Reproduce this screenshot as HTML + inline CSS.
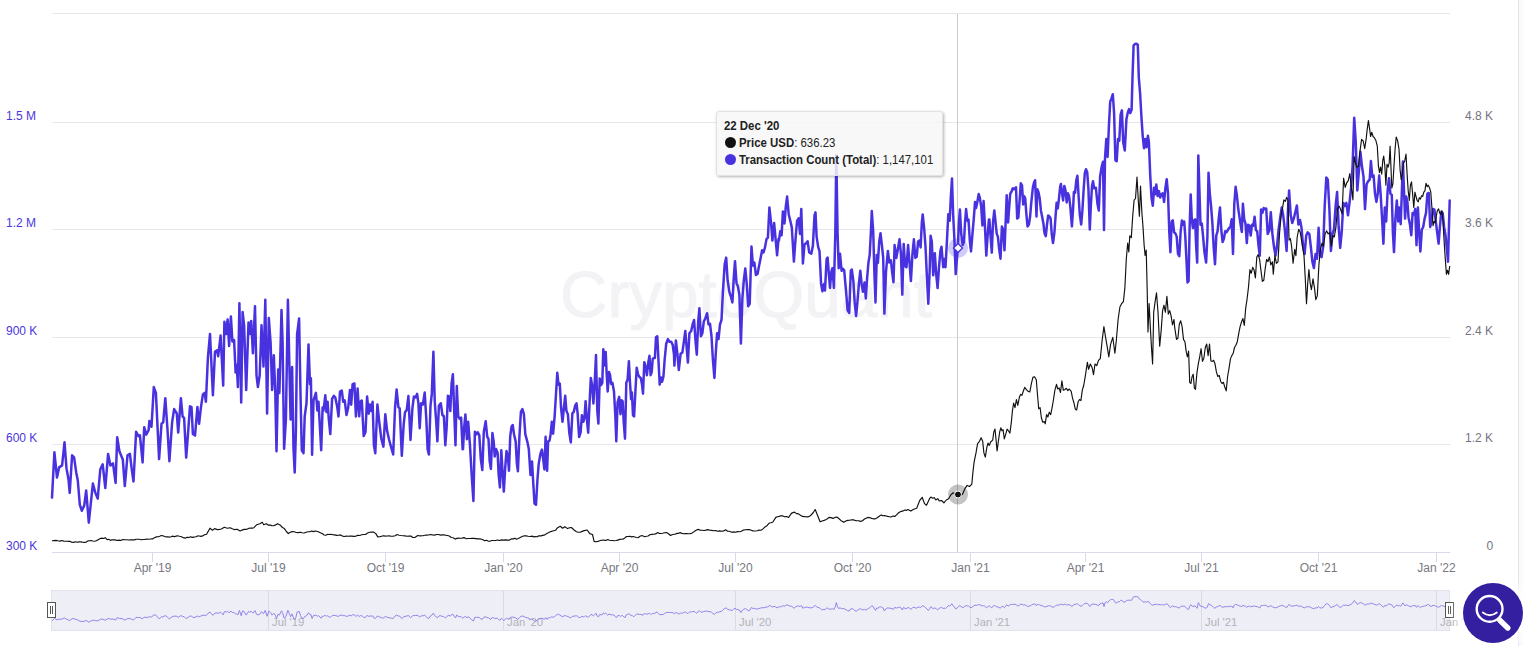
<!DOCTYPE html>
<html><head><meta charset="utf-8"><title>Chart</title>
<style>
html,body{margin:0;padding:0;background:#fff;}
body{width:1523px;height:646px;position:relative;overflow:hidden;font-family:"Liberation Sans",sans-serif;}
#rb{position:absolute;left:1518px;top:0;width:1px;height:646px;background:#e4e4ee;}
#rb2{position:absolute;left:1519px;top:0;width:4px;height:646px;background:#fafafa;}
#tt{position:absolute;left:715.5px;top:110.5px;width:225.5px;height:63px;background:rgba(247,247,247,0.85);border:1px solid #e2e2e6;border-radius:3px;box-shadow:1px 1px 3px rgba(0,0,0,0.3);font-size:12px;color:#222;line-height:17px;}
#tt div{position:absolute;left:7.4px;white-space:nowrap;transform:scaleX(0.95);transform-origin:0 0;}
#tt i{position:absolute;left:8px;width:11px;height:11px;border-radius:50%;}
#tt b{font-weight:bold;}
.dot{display:inline-block;width:10px;height:10px;border-radius:50%;vertical-align:-1px;margin-right:4px;}
#fab{position:absolute;left:1463px;top:583px;width:60px;height:60px;border-radius:50%;background:#331f9f;box-shadow:0 0 10px 6px rgba(255,255,255,0.9);}
</style></head><body>
<svg width="1523" height="646" viewBox="0 0 1523 646" style="position:absolute;left:0;top:0;font-family:'Liberation Sans',sans-serif">
<text x="560" y="317" font-size="64" fill="#f3f3f6" stroke="#f3f3f6" stroke-width="1" textLength="372" lengthAdjust="spacingAndGlyphs" font-weight="400">CryptoQuant</text>
<path d="M52 13.5 H1450" stroke="#e6e6ec" stroke-width="1" fill="none"/>
<path d="M52 122.5 H1450" stroke="#e6e6ec" stroke-width="1" fill="none"/>
<path d="M52 229.5 H1450" stroke="#e6e6ec" stroke-width="1" fill="none"/>
<path d="M52 337.5 H1450" stroke="#e6e6ec" stroke-width="1" fill="none"/>
<path d="M52 444.5 H1450" stroke="#e6e6ec" stroke-width="1" fill="none"/>
<path d="M52 552.5 H1450" stroke="#d9d9ec" stroke-width="1" fill="none"/>
<path d="M152.5 552 V562" stroke="#d9d9ec" stroke-width="1" fill="none"/>
<text x="152.5" y="571.5" font-size="12" fill="#777780" text-anchor="middle">Apr '19</text>
<path d="M268.5 552 V562" stroke="#d9d9ec" stroke-width="1" fill="none"/>
<text x="268.5" y="571.5" font-size="12" fill="#777780" text-anchor="middle">Jul '19</text>
<path d="M385.5 552 V562" stroke="#d9d9ec" stroke-width="1" fill="none"/>
<text x="385.5" y="571.5" font-size="12" fill="#777780" text-anchor="middle">Oct '19</text>
<path d="M503.5 552 V562" stroke="#d9d9ec" stroke-width="1" fill="none"/>
<text x="503.5" y="571.5" font-size="12" fill="#777780" text-anchor="middle">Jan '20</text>
<path d="M619.5 552 V562" stroke="#d9d9ec" stroke-width="1" fill="none"/>
<text x="619.5" y="571.5" font-size="12" fill="#777780" text-anchor="middle">Apr '20</text>
<path d="M735.5 552 V562" stroke="#d9d9ec" stroke-width="1" fill="none"/>
<text x="735.5" y="571.5" font-size="12" fill="#777780" text-anchor="middle">Jul '20</text>
<path d="M852.5 552 V562" stroke="#d9d9ec" stroke-width="1" fill="none"/>
<text x="852.5" y="571.5" font-size="12" fill="#777780" text-anchor="middle">Oct '20</text>
<path d="M970.5 552 V562" stroke="#d9d9ec" stroke-width="1" fill="none"/>
<text x="970.5" y="571.5" font-size="12" fill="#777780" text-anchor="middle">Jan '21</text>
<path d="M1085.5 552 V562" stroke="#d9d9ec" stroke-width="1" fill="none"/>
<text x="1085.5" y="571.5" font-size="12" fill="#777780" text-anchor="middle">Apr '21</text>
<path d="M1201.5 552 V562" stroke="#d9d9ec" stroke-width="1" fill="none"/>
<text x="1201.5" y="571.5" font-size="12" fill="#777780" text-anchor="middle">Jul '21</text>
<path d="M1318.5 552 V562" stroke="#d9d9ec" stroke-width="1" fill="none"/>
<text x="1318.5" y="571.5" font-size="12" fill="#777780" text-anchor="middle">Oct '21</text>
<path d="M1436.5 552 V562" stroke="#d9d9ec" stroke-width="1" fill="none"/>
<text x="1436.5" y="571.5" font-size="12" fill="#777780" text-anchor="middle">Jan '22</text>
<text x="6" y="119.5" font-size="12" fill="#4a36e0">1.5 M</text>
<text x="6" y="226.5" font-size="12" fill="#4a36e0">1.2 M</text>
<text x="6" y="334.5" font-size="12" fill="#4a36e0">900 K</text>
<text x="6" y="441.5" font-size="12" fill="#4a36e0">600 K</text>
<text x="6" y="549.5" font-size="12" fill="#4a36e0">300 K</text>
<text x="1465" y="119.5" font-size="12" fill="#74747f">4.8 K</text>
<text x="1465" y="226.5" font-size="12" fill="#74747f">3.6 K</text>
<text x="1465" y="334.5" font-size="12" fill="#74747f">2.4 K</text>
<text x="1465" y="441.5" font-size="12" fill="#74747f">1.2 K</text>
<text x="1486.5" y="549.5" font-size="12" fill="#74747f">0</text>
<path d="M957.5 14 V552" stroke="#cccccc" stroke-width="1" fill="none"/>
<path d="M52 497.6 L54.4 452.3 L57 477.5 L59.1 467.4 L62.1 465.4 L64.5 442.3 L66.5 468.4 L68.5 479.5 L69.7 493 L72.1 455.3 L74.1 457.3 L76.2 472.4 L77.8 480.5 L79.8 504.6 L81.8 510.7 L84.2 505.6 L86.2 490.5 L88.8 522.7 L90.8 503.6 L92.9 483.5 L95.3 492.6 L97.7 498.6 L100.3 469.4 L102.7 464.4 L105.3 488.1 L108.1 453.9 L110.4 465.4 L113 463.4 L115.6 482.9 L117.2 437.2 L119.4 451.3 L122.8 459.4 L124.8 486.1 L127.5 455.3 L129.9 453.9 L131.5 467.4 L133.5 481.5 L136.1 431.8 L138.5 436.2 L139.9 435.2 L142.6 462.4 L144.2 427.2 L146.2 434.6 L148.6 430.2 L149.4 420.9 L151.5 426.8 L153.8 387.1 L155.9 392.9 L159.1 459.1 L161.5 423.8 L163.2 422.4 L165.3 398.2 L167.4 428.2 L169.4 461.2 L172.1 422.4 L174.1 409.1 L176.8 413.5 L178.2 432.6 L180.9 398.2 L182.6 416.5 L184.1 417.9 L186.2 457.6 L188.2 431.2 L190 406.2 L191.5 407.1 L192.9 434.1 L195 435.6 L197.4 407.1 L199.1 423.8 L200.9 407.6 L202.9 394.4 L204.7 392.9 L205.9 401.8 L207.9 357.6 L210 334.1 L212.9 395.3 L215 351.8 L217.1 350.3 L218.2 356.2 L220.6 335.6 L223.2 385.6 L224.4 321.8 L226.2 334.1 L227.6 319.4 L229.1 345.9 L230.9 316.5 L232.4 341.5 L234.1 340 L235.6 372.4 L236.8 365 L237.9 387.1 L239.4 303.2 L241.2 402.4 L242.6 312.1 L244.1 325.3 L246.2 390 L248.5 322.4 L249.7 334.1 L251.2 320.9 L252.9 353.2 L255 306.2 L256.5 375.3 L257.9 387.1 L259.7 375.3 L261.5 325.3 L263.5 366.5 L265.3 299.7 L267.1 413.5 L268.8 317.9 L270.6 342.9 L272.1 390 L273.8 355.3 L275.3 392.9 L276.5 451.2 L278.2 369.4 L279.4 392.9 L281.5 310 L282.6 342.9 L284.1 448.8 L285.9 419.4 L287.9 299.7 L289.4 366.5 L290.6 419.4 L292.1 367.1 L293.5 448.8 L294.7 472.4 L295.9 431.2 L297.1 334.1 L299.1 318.5 L300.6 398.8 L301.8 450.3 L303.5 453.2 L304.7 416.5 L306.5 403.2 L308.5 344.4 L310 384.1 L310.9 378.2 L312.1 454.7 L313.5 400.3 L315.9 392.9 L317.4 410.6 L318.5 401.8 L321.2 450.3 L322.6 407.6 L323.5 410.6 L325.3 395.3 L326.5 412.1 L327.6 401.8 L328.8 419.4 L330.3 434.1 L332.1 398.8 L333.8 395.9 L335.3 397.4 L337.1 406.2 L338.5 416.5 L340 391.5 L341.8 390.6 L343.2 401.8 L344.7 400.3 L346.5 415 L348.2 407.6 L350 390 L351.2 404.7 L352.6 384.1 L354.4 383.5 L355.9 416.5 L357.6 388.5 L359.2 416.3 L360.3 401.8 L361.8 400.5 L363.7 436.1 L365.5 432.1 L367.1 396.6 L368.7 413.7 L370 404.5 L371.3 411.1 L372.6 401.8 L373.9 445.3 L375.3 453.2 L377.4 404.5 L379.2 421.6 L381.3 438.7 L383.4 446.6 L385.3 414.2 L387.1 430.8 L389.2 440 L391.3 447.9 L393.2 454.5 L395 408.4 L396.6 389.5 L398.4 407.1 L399.7 408.4 L401.8 455.8 L403.7 424.2 L405 412.4 L406.8 409.7 L408.4 396.1 L410.5 440 L412.4 408.4 L413.9 396.6 L415.5 397.4 L417.1 393.9 L418.4 403.2 L419.7 428.2 L421.1 403.2 L422.9 404.5 L424.7 392.6 L426.3 418.9 L427.6 449.2 L428.9 454.5 L430.5 405.8 L431.8 393.9 L433.4 351.8 L434.7 400.5 L436.1 420.3 L437.4 441.3 L438.9 405.8 L440.8 403.2 L442.4 415 L443.9 416.3 L445.3 445.3 L446.6 428.2 L447.9 395.8 L449.2 396.6 L450.3 411.1 L451.6 383.4 L452.9 374.2 L454.2 411.1 L455.5 445.3 L456.8 386.1 L458.2 416.3 L459.7 418.9 L461.1 417.6 L462.6 449.2 L463 449.1 L464.2 426.8 L465.4 414.4 L466.9 439.2 L468.2 421.8 L469.9 444.1 L471.6 473.8 L473.4 501 L474.9 431.7 L476.6 434.2 L477.8 432.2 L479.3 435.4 L480.8 459 L482.3 470.1 L483.8 431.7 L485.7 421.3 L487.2 436.7 L488.5 439.2 L489.7 461.4 L490.9 468.9 L492.4 433 L493.7 441.6 L494.7 456.5 L496.1 449.1 L497.6 452.8 L498.6 473.8 L499.9 487.4 L501.3 450.3 L502.6 472.6 L503.8 491.6 L505.3 466.4 L506.5 451 L507.8 456.5 L509 470.8 L510.2 436.7 L511.5 426.8 L512.7 425 L514 434.2 L515.7 441.6 L516.9 463.9 L517.9 471.3 L519.4 436.7 L520.9 411.9 L522.4 409 L523.9 414.4 L525.3 434.2 L527.3 441.6 L528.8 449.1 L530.5 475 L532 461.4 L533.3 483.7 L534.5 503.5 L536 504.8 L537.5 478.8 L538.7 463.9 L540.4 454 L541.9 449.6 L543.2 459 L544.4 469.4 L545.6 436.7 L547.1 470.8 L548.1 441.6 L549.6 440.4 L550.6 434.2 L551.8 421.8 L553.1 433.7 L554.6 416.9 L555.8 397.1 L557.3 372.8 L558.5 384.7 L559.8 383.5 L561 407 L562.5 421.8 L564 407 L565.2 395.8 L566.4 410.7 L567.9 414.4 L569.3 432.7 L570.8 442.4 L572.4 413.2 L573.7 412.1 L575.2 405.6 L576.5 403.4 L577.6 413.2 L579.1 437 L580.6 432.7 L581.9 415.3 L583.4 421.8 L584.5 417.5 L585.6 401.2 L587.1 421.8 L588.2 432.7 L589.5 404.5 L590.8 378.1 L592.1 385 L593.4 403.4 L594.7 382.8 L596 355.1 L597.3 411 L598.4 423.6 L599.7 378.5 L601 385 L602.3 382.8 L603.3 349.2 L604.6 365.5 L605.7 352.1 L606.8 376.3 L607.7 391.5 L609 372 L610.1 375.2 L611.1 383.9 L612.4 382.8 L614 391.5 L615.3 415.3 L616.3 441.3 L617.6 402.3 L619.2 396.9 L620.5 414.2 L621.5 400.2 L622.6 401.2 L623.7 421.8 L625 438.7 L626.3 382.8 L627.6 379.6 L628.9 361.2 L630 382.8 L631.1 399.1 L631.9 392.6 L633 415.3 L634.1 416.4 L635.4 391.5 L636.7 367.7 L638 374.2 L639.3 376.8 L640.8 378.1 L642.1 385 L643 393.7 L644.3 362.2 L645.6 366.6 L646.9 375.2 L648.2 363.3 L649.5 355.7 L650.6 375.2 L651.7 372 L652.7 359 L653.8 357.9 L654.9 357.9 L656 337.3 L657.3 336.2 L658.4 359 L659.7 384.6 L661 377.4 L662.1 381.7 L663.4 376.8 L664.7 359 L666.2 343.8 L667.9 339.1 L669.4 341.7 L671.2 341.7 L672.7 344.9 L674 354.7 L674.4 365.6 L675.9 340.6 L677.4 353.8 L678.8 370 L680.6 353.8 L682.4 352.4 L683.8 342.1 L685.3 330.9 L686.8 349.4 L687.9 362.6 L689.4 333.2 L691.2 330.9 L692.6 324.4 L694.1 320 L695.6 342.1 L696.8 354.7 L698.2 321.5 L699.4 308.2 L700.9 336.2 L702.4 333.2 L703.8 321.5 L705.3 318.5 L707.1 313.2 L708.5 324.4 L710 323.8 L711.5 336.2 L712.9 359.7 L714.4 377.9 L715.9 350.9 L717.1 333.2 L718.5 339.1 L720 324.4 L721.5 320 L722.9 292.1 L724.7 264.1 L726.2 257.6 L727.6 280.3 L729.4 292.1 L730.9 296.5 L732.4 302.4 L733.8 277.4 L735 261.2 L736.5 283.2 L737.9 286.2 L739.4 295 L740.9 343.5 L742.4 297.9 L743.8 280.3 L745.3 268.5 L746.8 284.7 L748.2 306.2 L749.7 303.8 L751.5 246.5 L752.9 265.6 L754.4 262.6 L755.9 275 L757.6 273.8 L759.1 265.6 L760.6 258.2 L762.1 250.3 L763.5 252.4 L765 247.4 L766.5 239.1 L767.9 237.6 L769.4 207.4 L771.2 224.4 L772.4 240.6 L774.1 222.9 L775.6 239.1 L777.1 255.3 L778.5 239.1 L778.9 240.5 L780.3 231.3 L781.6 235.3 L782.9 211.6 L784.5 223.4 L785.8 206.3 L787.1 196.6 L788.7 214.2 L790.3 220.8 L791.8 227.4 L793.9 261.6 L795.5 239.2 L797.1 220.8 L798.7 218.2 L800 233.9 L801.3 208.9 L802.9 263.4 L804.5 244.5 L806.1 243.2 L807.6 241.3 L809.2 252.4 L811.3 253.7 L812.9 245.8 L814.5 215.5 L815.5 212.4 L816.6 236.6 L818.2 247.1 L819.5 251.1 L821.1 283.9 L822.4 291.3 L823.9 283.9 L825 290.5 L826.6 258.9 L827.6 257.6 L828.9 274.7 L830 287.9 L831.3 272.1 L832.4 268.2 L833.9 287.9 L835.3 233.9 L836.3 155 L837.6 233.9 L838.7 268.2 L840 253.7 L841.6 270.8 L842.9 268.7 L844.2 270.3 L846.1 291.8 L847.6 310.3 L849.2 312.9 L850.8 270.8 L851.8 269.5 L853.4 281.3 L854.7 302.4 L856.1 316.1 L857.4 302.4 L858.9 283.9 L860.3 270.8 L861.6 283.9 L862.9 291.8 L864.5 282.6 L865.8 298.4 L867.1 278.7 L868.4 262.9 L869.7 255 L870.8 233.9 L871.8 211.1 L873.2 231.3 L874.5 276.1 L875.5 302.4 L876.8 255 L877.9 262.9 L879.2 241.8 L880.5 233.2 L881.8 244.5 L883.2 257.6 L884.4 313.6 L886 271.8 L887.9 250.9 L889.3 262.5 L890.9 260.2 L892.1 271.8 L893.5 282.3 L894.6 245.1 L896.3 257.9 L897.6 250.9 L899.5 239.3 L900.9 253.2 L902.3 294.6 L903.7 243.9 L905.1 266 L906.5 267.2 L908.1 245.1 L909.5 262.5 L910.9 281.1 L912.5 253.2 L913.9 239.3 L915.3 257.9 L916.7 256.7 L918.1 241.6 L919.5 240.5 L920.6 247.4 L921.8 223 L922.7 214.5 L924.1 227.7 L925.5 246.3 L926.9 276.4 L928.3 303.8 L929.7 269.5 L930.6 235.8 L931.8 241.6 L933.2 275.3 L934.8 253.2 L936.2 274.1 L937.6 288.1 L939 267.2 L940.4 250.9 L941.5 246.7 L943.2 267.2 L944.3 259 L945.5 267.2 L946.9 241.6 L948.3 214.2 L949.7 220.7 L950.8 197.5 L952 178.5 L953.1 213.8 L954.3 237 L955.7 274.1 L957.8 248.1 L958.9 223 L959.9 209.6 L961.3 234.7 L962.7 245.1 L964 241.6 L965 223 L966.1 209.1 L967.3 220.7 L968.5 219.6 L969.9 241.6 L971 251.4 L972.4 234.7 L973.8 218.4 L975 202.1 L976.1 208 L977.3 202.1 L978.7 194 L979.8 197.5 L981.2 206.8 L982.4 225.4 L983.6 201 L984.9 225.4 L986.3 255.6 L987.7 234.7 L988.9 219.6 L989.4 219.5 L990.6 236.6 L991.8 252.7 L993 222.5 L994.3 210.4 L995.5 221.5 L996.7 233.6 L997.9 236.6 L999.1 248.7 L1000.5 258.7 L1001.9 226.5 L1003.1 229.5 L1004.5 250.3 L1005.7 220.5 L1006.7 195.3 L1008.1 222.5 L1009.1 208.4 L1010.2 193.9 L1011.6 191.3 L1012.8 188.3 L1014 189.3 L1015.2 188.3 L1016 187.3 L1017.2 218.5 L1018.4 217.5 L1019.6 200.4 L1020.8 183.3 L1022 185.3 L1023.2 204.4 L1024.2 196.3 L1025.2 198.4 L1026.4 214.4 L1027.5 226.5 L1028.9 224.5 L1030.1 216.5 L1031.3 202.4 L1032.9 187.3 L1034.1 182.3 L1035.1 180.2 L1036.5 216.5 L1037.3 189.3 L1038.5 192.3 L1039.7 198.4 L1040.9 210.4 L1042.1 216.5 L1043.4 223.5 L1044.6 233.6 L1045.8 236.2 L1047 224.5 L1048.2 215.5 L1049.4 216.5 L1050.6 218.5 L1051.8 234.6 L1053 243 L1054.4 232.6 L1055.4 218.5 L1056.6 202.8 L1057.8 208.4 L1059 198.4 L1060.1 187.3 L1060.9 183.9 L1061.9 192.3 L1063.1 200.4 L1064.3 185.9 L1065.5 190.3 L1066.7 202.4 L1067.9 193.3 L1069.1 196.3 L1070.3 206.4 L1071.9 226.5 L1073.1 208.4 L1073.9 191.9 L1075.1 192.7 L1076.3 180.2 L1077.4 175.8 L1078.6 196.3 L1079.8 214.4 L1081.2 224.5 L1082.4 210.4 L1083.6 190.3 L1084.8 173.2 L1086 169.2 L1087.2 172.2 L1088.4 188.3 L1089.8 229.5 L1090.8 206.4 L1092 186.3 L1093 181.2 L1094.1 188.3 L1095.9 187.8 L1097.5 204.1 L1098.8 210.6 L1100.1 176.5 L1101.7 166.7 L1103 161.8 L1104 230.1 L1105 158.6 L1106.3 139.1 L1107.6 157 L1108.9 126.1 L1110.2 101.7 L1111.5 98.4 L1112.8 94.2 L1114.1 113 L1115.4 160.2 L1116.7 161.2 L1118 139.1 L1119.3 140.7 L1120.6 114.7 L1121.9 110.4 L1123.2 142.3 L1124.8 150.4 L1126.4 119.6 L1127.7 113 L1129 109.1 L1130.3 113 L1131.6 109.8 L1132.6 74 L1133.6 45.4 L1134.9 44.1 L1136.5 43.8 L1137.8 44.8 L1138.8 77.3 L1140.1 93.5 L1141.4 116.3 L1142.7 135.8 L1144 148.2 L1145.3 139.1 L1146.6 147.2 L1147.9 135.8 L1148.9 142.3 L1150.2 174.8 L1151.5 197.6 L1152.8 205.7 L1154.1 187.8 L1155 194.3 L1156.3 184.6 L1157.6 196 L1158.9 191.1 L1160.2 197.6 L1161.5 194.4 L1162.8 193.3 L1164.1 202 L1165.4 187.9 L1166.7 179.2 L1168 193.3 L1169.3 232.3 L1170.4 252.2 L1171.7 221.5 L1172.8 220.4 L1174.1 232.3 L1175.4 233.4 L1176.7 236.6 L1178 253.9 L1179.3 256.1 L1180.6 232.3 L1181.9 220.4 L1183.2 224.7 L1184.2 221.5 L1185.3 236.6 L1186.6 262.6 L1187.5 282.5 L1188.6 281 L1189.6 228 L1190.7 194.4 L1191.8 219.3 L1192.9 228 L1194 220.4 L1195.1 219.3 L1196.1 245.3 L1197.2 262.6 L1198.3 155.4 L1199.4 189 L1200.5 224.7 L1201.8 223.6 L1203.1 236.6 L1204.4 251.8 L1206.1 262.6 L1207.4 236.6 L1208.5 172.7 L1209.8 193.3 L1211.1 206.3 L1212.4 223.6 L1213.7 247.4 L1215 264.3 L1216.3 235.5 L1217.6 231.2 L1218.9 217.1 L1220 207.4 L1221.3 230.1 L1222.6 242 L1223.9 238.8 L1225.2 231.2 L1226.5 232.3 L1227.8 230.1 L1229.1 228 L1230.4 226.9 L1231.7 219.3 L1233 253.9 L1234.3 204.1 L1235.6 186.8 L1236.9 195.5 L1238.2 208.5 L1239.5 217.1 L1240.8 225.8 L1241.8 231.9 L1242.9 203.7 L1244.2 219.3 L1245.5 223.6 L1246.8 243.1 L1248.1 224.7 L1249.4 225.8 L1250.7 235.5 L1252 224.7 L1253.3 225.8 L1254.6 216.7 L1255.9 230.1 L1257.2 231.2 L1258.5 245.3 L1259.8 255.7 L1261.1 209.5 L1262.4 212.8 L1263.7 208 L1264.6 209.1 L1266.2 208.5 L1267.7 233.9 L1269.3 230.8 L1270.8 212.2 L1272.4 233.9 L1273.9 246.3 L1275.5 255.6 L1277 246.3 L1278.6 229.3 L1280.1 218.4 L1281.7 207.6 L1283.2 215.3 L1284.8 229.3 L1286.6 251 L1287.9 212.2 L1289.1 190.5 L1290.7 215.3 L1292.2 223.1 L1293.8 218.4 L1295.3 212.2 L1296.9 205.4 L1298.4 224.6 L1300 220 L1301.5 227.7 L1303.1 246.3 L1304.6 254.1 L1306.2 235.5 L1307.7 232.4 L1309.3 233.9 L1310.8 246.3 L1312.4 261.8 L1313.9 268 L1315.5 254.1 L1317 258.7 L1318.6 227.7 L1320.1 255.6 L1321.6 257.1 L1323.2 246.3 L1324.7 206 L1326.3 177.5 L1327.8 179.7 L1329.4 209.1 L1330.9 251 L1332.5 233.9 L1334 229.3 L1335.6 206 L1337.1 192.1 L1338.7 227.7 L1340.2 247.9 L1341.8 230.8 L1343.3 202.9 L1344.9 206 L1346.4 202.9 L1348 215.3 L1349.5 202.9 L1351.1 187.4 L1352.6 165.8 L1354.2 117.7 L1355.7 141 L1357.3 190.5 L1358.8 172 L1360.4 151.8 L1361.9 165.8 L1363.5 176.6 L1365 209.1 L1366.6 184.3 L1368.1 181.3 L1369.7 179.6 L1370.9 161 L1372.3 176.9 L1373.6 175.5 L1375 193.6 L1376.4 201.9 L1377.8 193.6 L1379.2 175.5 L1380.6 193.6 L1382 217.2 L1383.4 243.7 L1384.8 207.5 L1386.2 221.4 L1387.6 190.8 L1389 178.2 L1390.4 193.6 L1391.8 195 L1392.9 232.6 L1394 252.1 L1395.4 218.6 L1396.8 200.5 L1398.2 221.4 L1399.3 207.5 L1400.7 224.2 L1401.8 193.6 L1402.9 161.5 L1404 190.8 L1405.1 218.6 L1406.2 196.4 L1407.4 201.9 L1408.5 217.2 L1409.9 224.2 L1411.3 235.3 L1412.6 213.1 L1414 214.5 L1415.2 208.9 L1416.5 245.1 L1417.9 207.5 L1419.3 235.3 L1420.4 251.5 L1421.8 229.8 L1423.2 227 L1424.6 218.6 L1426 213.1 L1427.4 193.6 L1428.8 193 L1430.2 227 L1431.6 221.4 L1433 208.9 L1434.4 209.7 L1435.8 221.4 L1437.2 232.6 L1438.6 243.7 L1439.9 227 L1441.3 211.7 L1442.7 213.1 L1444.1 227 L1445.5 235.3 L1446.9 249.3 L1448 261.8 L1449.1 221.4 L1449.7 200.5" stroke="#4832e0" stroke-width="2.5" fill="none" stroke-linejoin="round" stroke-linecap="round"/>
<path d="M52 540.8 L54 540.6 L55.9 540.4 L57.9 540.8 L59.9 541.1 L61.8 540.5 L63.8 541.1 L65.8 541.2 L67.8 541.3 L69.7 541.3 L71.6 542.1 L73.6 542.4 L75.4 541.8 L77.2 542.3 L79 541.9 L80.9 541.9 L82.7 542.3 L84.5 542.4 L86.1 542.3 L87.8 540.9 L89.4 540.8 L91.1 540.5 L92.8 541 L94.6 541.3 L96.3 540.8 L98.2 539.7 L100.2 538.5 L101.9 538.1 L103.5 538.5 L105.2 537.7 L107.1 539.7 L108.8 539.3 L110.4 540.4 L112 539.8 L113.7 539.8 L115.3 539.9 L117 540.5 L119 540.1 L120.9 540.5 L122.8 539.5 L124.8 539.7 L126.8 539.8 L128.8 540 L130.7 539.7 L132.7 539.9 L134.4 539.9 L136.1 539.3 L137.8 539.2 L139.4 539.3 L141.1 539.8 L142.8 539.5 L144.5 539.5 L146.5 539.1 L148.4 539.3 L150.4 539 L152.4 538.9 L154.4 537.7 L156.4 536.9 L158 536.8 L159.7 536.2 L161.3 535.5 L162.9 535.7 L164.6 536.5 L166.2 536.9 L167.8 536.8 L169.5 537.1 L171.1 536.8 L172.8 536.1 L174.4 536.8 L176.1 536.1 L177.7 535.8 L179.4 536.3 L181 536.5 L183.9 537.9 L185.6 538.1 L187.2 537.2 L188.9 537.5 L190.5 536.8 L192.2 537.4 L193.8 537.1 L195.8 536.8 L197.7 535.9 L199.3 536 L201 536.4 L202.6 535.9 L204.6 534.8 L206.6 534.2 L208.2 531.4 L209.9 528.2 L212.5 530.2 L214.5 528.6 L217.4 529.6 L219.4 529.4 L221.4 529 L224.3 527.3 L227.3 528.2 L230.2 527.7 L232.2 528.7 L234.2 529.6 L237.1 529.2 L240.1 531 L242.1 530.1 L244 529.4 L245.6 529.4 L247.3 529.1 L248.9 528.2 L250.6 528 L252.2 528.1 L253.9 527.7 L256.8 524.7 L259.8 523.7 L262.3 522.3 L263.7 524.7 L266.3 523.7 L268.6 525.3 L270.3 524.9 L271.9 525.8 L273.6 525.7 L275.6 524.9 L277.5 523.7 L280.5 525.3 L282.4 527.5 L284.4 528.6 L286.4 531.5 L288.3 533.6 L290.3 532.3 L292.3 531.6 L294.3 531.8 L296.2 532.5 L298.2 532.6 L300.2 532.2 L302.1 532.8 L304.1 533 L306.1 532.2 L308 531.7 L310 531.8 L311.6 531 L313.3 531.6 L314.9 531 L316.9 531.2 L318.8 532 L320.8 533 L322.5 533.6 L324.1 535 L325.8 535.3 L327.4 534.4 L329.1 534.5 L330.7 534.2 L332.6 534.6 L334.6 534.9 L336.6 535.4 L338.5 535.3 L340.5 534.9 L342.5 536.1 L344.5 536.5 L346.3 536.1 L348.1 536.2 L350 536 L351.8 536.1 L353.8 536.4 L355.8 536.3 L357.7 535.2 L359.7 535.5 L361.7 534.8 L363.6 534.5 L365.6 534.5 L367.6 533 L369.5 532.2 L371.5 532.1 L373.5 532 L375.8 533.6 L377.8 536.9 L379.7 536.8 L381.6 536.2 L383.4 535.7 L385.3 536.1 L387.3 536 L389.2 535.9 L391.2 536.2 L393.2 536.1 L395.1 535.8 L397.1 534.5 L399.1 535.2 L401.1 535.5 L403.1 535.7 L405 535.9 L406.9 536.2 L408.9 536.1 L410.9 536 L412.8 537.5 L414.8 537.5 L417.8 535.5 L419.5 535.8 L421.2 535.8 L423 535.7 L424.7 535.3 L426.7 535.1 L428.6 535 L430.6 534.5 L432.6 534.9 L434.6 535.1 L436.6 534.5 L438.5 534.5 L440.5 535.1 L442.2 534.9 L443.9 534.9 L445.6 535.2 L447.3 535.5 L449.3 536 L451.3 537.5 L453.2 537.7 L455.2 539.1 L456.9 538.4 L458.6 538.1 L460.4 538.2 L462.1 538.1 L464.1 537.6 L466.1 538.7 L468 538.5 L470 538.5 L472 538.2 L473.9 538.4 L475.9 538.6 L477.9 538.9 L479.9 538.9 L481.8 539.3 L484.8 540.8 L486.5 540.3 L488.2 541.1 L490 541.2 L491.7 540.5 L493.6 540.5 L495.6 540.5 L497.6 540 L499.5 540.5 L501.5 539.9 L503.4 540.1 L505.4 539.9 L507.4 540.1 L509.4 540.1 L511.3 538.9 L513.3 538.9 L515 538.2 L516.6 539.2 L518.3 538.5 L520.2 537.5 L522.2 536.5 L524.2 535.8 L526.1 535.9 L528.1 536.3 L530.1 536.5 L532 536.1 L534 536.9 L535.6 536.5 L537.3 536.7 L538.9 535.7 L540.9 535.9 L542.8 535.4 L544.8 534.9 L546.8 533.5 L548.8 532.6 L550.8 531.6 L552.7 531 L555.7 530.2 L557.6 527.7 L560.2 526.3 L562.6 528.2 L564.9 526.7 L567.5 528.6 L569.5 527.7 L571.4 527.5 L574.4 530.2 L576.4 531.8 L578.3 532.3 L580.3 532.2 L582.2 531.4 L584.2 530.6 L587.2 530 L589.8 533.6 L592.5 534.5 L594.1 541.4 L596 541.7 L598 541.4 L599.7 540.8 L601.3 540.2 L603 540.1 L604.6 540.3 L606.3 540.3 L607.9 539.5 L609.5 540.3 L611.2 540.5 L612.8 540.5 L614.4 540.7 L616.1 540.5 L617.7 540.1 L619.7 539.4 L621.6 539.3 L623.6 538.9 L626.6 536.5 L628.2 536.5 L629.9 536.2 L631.5 536.9 L633.1 536.5 L634.8 537 L636.4 537.5 L638 537.7 L640 536.3 L641.9 535.5 L644.8 536.7 L646.5 536.3 L648.1 536 L649.8 534.8 L651.8 534.4 L653.7 534.2 L655.7 533.9 L657.7 532.6 L659.3 533.4 L661 533.5 L662.6 533.2 L664.5 532.7 L666.5 532.6 L668.5 533.7 L670.5 535.5 L672.1 534.7 L673.8 534.3 L675.4 534.2 L677 533.3 L678.7 533.3 L680.3 532.6 L681.9 533.4 L683.6 533.7 L685.2 533.6 L686.9 533.6 L688.5 533.8 L690.2 533.6 L692.2 533 L694.1 531.6 L697 529.8 L698.7 529.4 L700.3 530.3 L702 530.2 L704 530.5 L705.9 530.1 L707.9 529.6 L709.9 530.3 L711.8 530.4 L713.8 530.8 L715.8 530.5 L717.8 531.3 L719.7 530.9 L721.7 531.2 L723.7 530.9 L725.6 529.8 L727.6 531.2 L729.5 531.3 L731.5 532.2 L733.5 531.9 L735.4 532.3 L737.4 531.6 L739.4 531.7 L741.4 531.2 L743.3 530.1 L745.3 529.8 L747.3 529.5 L749.2 529.6 L751.2 530.2 L753.2 530.9 L755.1 531 L757.1 530.8 L759.1 530.1 L761.1 530.2 L763 528.9 L765 526.9 L767 525.7 L768.9 523.3 L770.9 522.8 L772.9 522 L775.8 517.4 L777.5 516.7 L779.1 516.4 L780.8 515.8 L782.8 515.9 L784.7 516.8 L786.7 516.5 L788.6 517.4 L791.6 513.1 L794.5 512.1 L796.5 513.6 L798.5 513.9 L800.5 515.3 L802.4 516.4 L804.4 516.6 L806.4 516.8 L808.3 516.8 L810.3 515.8 L813.3 512.5 L815.2 509.5 L817.2 514.5 L820.1 521.8 L822.1 521 L824.1 520.4 L825.7 519.8 L827.4 518.8 L829 517.4 L831 517.6 L833 518.4 L835 517.4 L836.9 517 L838.8 518.5 L840.8 520.4 L843.8 522.3 L845.8 521 L847.7 520.4 L849.7 520.2 L851.7 519.8 L853.3 519.8 L855 520.4 L856.6 520.8 L858.5 520.7 L860.5 521.4 L862.5 520.7 L864.5 519 L866.5 518 L868.4 517.4 L870 517.8 L871.7 518.4 L873.3 518.8 L875.3 518.8 L877.3 517.8 L879.2 516.3 L881.2 514.9 L882.8 515.8 L884.5 515.6 L886.1 516 L887.8 516.4 L889.4 516.7 L891.1 517 L893 516.1 L895 516.4 L897 514.4 L898.9 512.5 L900.9 511.4 L902.9 511.1 L904.5 510 L906.2 510.4 L907.8 509.5 L910.8 511.1 L913.7 509.2 L916.7 508.2 L919.6 500.7 L922.2 497.3 L924.5 503.6 L926.5 505.2 L929.5 498.7 L930.8 497.1 L932.4 498.1 L934.2 497.7 L935.8 500 L937.7 498.6 L939.3 500.9 L941.6 500.5 L943.9 502.8 L946.3 500 L948.6 498.8 L950.9 494.7 L953.2 492.8 L955.5 494.2 L957.9 494.7 L960.2 495.8 L962.5 494.2 L964.8 488.9 L967.1 485.4 L969.5 486.5 L971.8 484.2 L973 471.4 L974.1 462.2 L976 452.9 L977.6 443.6 L979.5 441.3 L981.1 437.8 L982.7 441.3 L983.9 452.9 L985.3 457.1 L986.9 447.1 L988 443.1 L989.2 445.4 L990.8 441.7 L992.7 440.1 L993.8 432 L995 429 L996.2 441.3 L997.1 451 L998.5 440.1 L999.7 432 L1000.8 427.8 L1002 430.8 L1003.1 429.7 L1004.3 438.9 L1005.7 434.3 L1007.1 429.2 L1008.5 430.8 L1009.9 433.1 L1011.3 422.7 L1012.4 411.1 L1013.6 403 L1015 407.6 L1016.4 399.5 L1017.8 405.3 L1019.4 397.1 L1020.6 394.4 L1021.9 395.3 L1023.3 391.3 L1024.7 387.4 L1026.4 389.7 L1028 391.3 L1029.8 392 L1031.5 383.2 L1032.9 377.4 L1034.5 376.7 L1036.3 379.7 L1037.5 394.8 L1038.7 408.8 L1040.1 407.6 L1041.4 418 L1042.8 422.2 L1044.2 421.5 L1045.2 423.8 L1046.6 414.6 L1047.9 416.9 L1049.3 412.2 L1050.7 414.6 L1052.1 407.6 L1053.5 399.5 L1054.9 390.2 L1056.5 384.4 L1057.7 389 L1059.1 387.9 L1060.5 392.5 L1061.9 380.9 L1063.3 390.2 L1064.7 389.7 L1066.3 388.3 L1067.9 390.6 L1069.3 389 L1071.2 391.3 L1072.6 398.3 L1074 403 L1075.3 409.2 L1076.7 409.9 L1078.1 401.8 L1079.5 399.5 L1080.9 400.6 L1082.3 390.2 L1083.7 385.5 L1085.1 377.4 L1086.5 368.1 L1087.4 362.3 L1088.6 369.3 L1090.3 364 L1092.1 367.5 L1093.5 374.6 L1095 364 L1096.7 365.7 L1098.5 360.4 L1100.3 358.6 L1102.1 340.8 L1103.9 326.6 L1105.6 337.3 L1107.4 347.9 L1108.8 356.8 L1110.6 344.4 L1112.8 337.3 L1114.9 353.3 L1116.3 340.8 L1118.1 319.5 L1119.9 307 L1121.7 303.5 L1123.4 301.7 L1124.9 287.4 L1126.3 259 L1127.7 243 L1128.8 251.9 L1129.8 235.8 L1131.3 237.6 L1132.7 216.3 L1134.1 200.2 L1135.5 198.5 L1137 177.1 L1138.4 202 L1139.4 216.3 L1140.5 186 L1141.9 212.7 L1143 226.9 L1144.1 244.7 L1145.1 255.4 L1146.2 250.1 L1147.3 294.6 L1148 331.9 L1149.1 303.5 L1150.5 330.1 L1151.5 347.9 L1152.6 364 L1153.7 312.3 L1155.1 301.7 L1156.5 292.8 L1158 312.3 L1159.7 346.2 L1161.2 330.1 L1162.6 310.6 L1164 305.2 L1165.4 312.3 L1166.9 296.3 L1168.3 314.1 L1169.7 310.6 L1171.1 315.9 L1172.5 324.8 L1174 319.5 L1174.6 326.6 L1176.5 339.4 L1177.9 338.2 L1179.3 324.3 L1180.7 320.8 L1182.1 326.6 L1183.5 339.4 L1184.9 341.7 L1186.3 352.2 L1187.4 356.8 L1188.6 351 L1189.7 382.3 L1190.9 383.5 L1192.1 376.5 L1193.2 374.2 L1194.4 388.1 L1195.5 389.3 L1196.9 373.1 L1198.3 363.8 L1199.7 356.8 L1201.1 348.7 L1202.5 361.4 L1203.9 358 L1205.3 347.5 L1206.7 344 L1208.1 355.6 L1209.5 344 L1210.9 361 L1212.3 361.4 L1213.6 360.3 L1215 363.8 L1216.4 371.9 L1217.8 376.5 L1219.2 375.4 L1220.6 381.2 L1222 383.5 L1223.4 382.3 L1224.8 387 L1226.2 390.9 L1227.6 376.5 L1229 368.4 L1230.4 359.1 L1231.8 355.6 L1233.2 353.3 L1234.5 347.5 L1235.9 345.2 L1237.3 341.7 L1238.7 333.6 L1240.1 326.6 L1241.5 322 L1242.9 318.5 L1244.3 325.5 L1245.7 308 L1247.1 298.8 L1248.5 287.1 L1249.9 269.7 L1251.3 273.2 L1252.7 267.4 L1254 269.7 L1255.4 277.9 L1256.8 257 L1258.2 254.6 L1259.6 259.3 L1261 270.9 L1262.4 281.3 L1263.8 280.2 L1265.2 268.6 L1266.6 259.3 L1268 261.6 L1269.4 257 L1270.8 264.9 L1272.4 261.8 L1273.3 274.2 L1274.9 255.6 L1276.4 263.3 L1278 261.8 L1279.5 233.9 L1281.1 215.3 L1282.6 207.6 L1283.9 199.8 L1285.4 201.4 L1286.6 197.4 L1287.9 199.8 L1289.1 240.1 L1290.4 238.6 L1291.6 246.3 L1293.1 263.3 L1294.7 249.4 L1295.9 255.6 L1297.2 237 L1298.7 229.3 L1300.3 232.4 L1301.5 240.1 L1302.8 247.9 L1304 255.6 L1305.2 277.3 L1306.5 303.6 L1307.7 283.5 L1308.9 269.5 L1310.2 283.5 L1311.4 289.7 L1313 278.8 L1314.5 288.1 L1315.8 299.6 L1317.3 295.9 L1318.9 264.9 L1320.4 249.4 L1322 243.2 L1323.5 246.3 L1325.1 233.9 L1326.6 230.8 L1328.2 233.9 L1329.7 232.4 L1331.3 246.3 L1332.8 235.5 L1334.3 237 L1335.9 227.7 L1337.4 209.1 L1339 206 L1340.5 209.1 L1342.1 213.8 L1343.6 178.2 L1345.2 187.4 L1346.7 182.8 L1348.3 180.6 L1349.8 173.5 L1351.4 187.4 L1352.9 199.8 L1354.2 156.5 L1355.4 162.7 L1357 167.3 L1358.5 165.8 L1360.1 150.3 L1361.6 139.4 L1363.2 141 L1364.7 148.7 L1366.3 137.9 L1367 130.9 L1368.4 120.6 L1369.7 129.5 L1370.6 136.5 L1371.7 132.3 L1373.1 136.5 L1374.5 137.9 L1375.9 140.6 L1377.3 146.2 L1378.4 165.7 L1379.5 172.7 L1380.6 167.1 L1381.7 174.1 L1382.8 160.1 L1383.7 156 L1384.8 165.7 L1385.9 185.2 L1387 164.3 L1388.1 167.1 L1389.2 162.9 L1390.1 146.2 L1390.9 165.7 L1391.8 188 L1392.9 183.8 L1394 165.7 L1395.1 149 L1396.2 137 L1397.6 140.6 L1399 149 L1400.1 169.9 L1401.2 179.6 L1402.3 174.1 L1403.5 162.9 L1404.6 161.5 L1406 154 L1407.1 174.1 L1408.2 190.8 L1409.3 200.5 L1410.4 185.2 L1411.5 181.9 L1412.6 193.6 L1413.8 207.5 L1414.9 192.2 L1416 196.4 L1417.1 200.5 L1418.2 201.9 L1419.3 197.7 L1420.4 199.1 L1421.6 195.8 L1422.7 196.4 L1423.8 192.2 L1424.9 190.8 L1426 183.3 L1427.1 186.6 L1428.2 185.2 L1429.6 188 L1430.8 192.2 L1431.9 207.5 L1433 225.6 L1434.1 221.4 L1435.2 222.8 L1436.3 215.8 L1437.4 210.3 L1438.6 208.9 L1439.7 213.1 L1440.8 214.5 L1441.9 210.8 L1443 221.4 L1444.1 240.9 L1445.2 257.6 L1446.4 274.3 L1447.5 270.2 L1448.6 274.3 L1449.7 266" stroke="#111111" stroke-width="1.15" fill="none" stroke-linejoin="round"/>
<circle cx="958" cy="248" r="10" fill="#4832e0" fill-opacity="0.25"/>
<path d="M958 243.5 L962.5 248 L958 252.5 L953.5 248 Z" fill="#fff" stroke="#4832e0" stroke-width="1.4"/>
<circle cx="958" cy="494.5" r="10" fill="#111" fill-opacity="0.25"/>
<circle cx="958" cy="494.5" r="3.5" fill="#111" stroke="#fff" stroke-width="1"/>
<rect x="51.5" y="590.5" width="1398" height="40" fill="#eeeef7" stroke="#e2e2ec" stroke-width="1"/>
<path d="M268.5 591 V630" stroke="#dadae2" stroke-width="1" fill="none"/>
<text x="272.0" y="626" font-size="11.3" fill="#b3b3b8">Jul '19</text>
<path d="M503.5 591 V630" stroke="#dadae2" stroke-width="1" fill="none"/>
<text x="507.0" y="626" font-size="11.3" fill="#b3b3b8">Jan '20</text>
<path d="M735.5 591 V630" stroke="#dadae2" stroke-width="1" fill="none"/>
<text x="739.0" y="626" font-size="11.3" fill="#b3b3b8">Jul '20</text>
<path d="M970.5 591 V630" stroke="#dadae2" stroke-width="1" fill="none"/>
<text x="974.0" y="626" font-size="11.3" fill="#b3b3b8">Jan '21</text>
<path d="M1201.5 591 V630" stroke="#dadae2" stroke-width="1" fill="none"/>
<text x="1205.0" y="626" font-size="11.3" fill="#b3b3b8">Jul '21</text>
<path d="M1436.5 591 V630" stroke="#dadae2" stroke-width="1" fill="none"/>
<text x="1440.0" y="626" font-size="11.3" fill="#b3b3b8">Jan '22</text>
<path d="M52 620.8 L54.4 618.4 L57 619.8 L59.1 619.2 L62.1 619.1 L64.5 617.9 L66.5 619.3 L68.5 619.9 L69.7 620.6 L72.1 618.6 L74.1 618.7 L76.2 619.5 L77.8 619.9 L79.8 621.2 L81.8 621.5 L84.2 621.2 L86.2 620.4 L88.8 622.2 L90.8 621.1 L92.9 620.1 L95.3 620.6 L97.7 620.9 L100.3 619.3 L102.7 619.1 L105.3 620.3 L108.1 618.5 L110.4 619.1 L113 619.0 L115.6 620.0 L117.2 617.6 L119.4 618.4 L122.8 618.8 L124.8 620.2 L127.5 618.6 L129.9 618.5 L131.5 619.2 L133.5 620.0 L136.1 617.3 L138.5 617.5 L139.9 617.5 L142.6 618.9 L144.2 617.1 L146.2 617.5 L148.6 617.2 L149.4 616.7 L151.5 617.0 L153.8 614.9 L155.9 615.2 L159.1 618.8 L161.5 616.9 L163.2 616.8 L165.3 615.5 L167.4 617.1 L169.4 618.9 L172.1 616.8 L174.1 616.1 L176.8 616.3 L178.2 617.4 L180.9 615.5 L182.6 616.5 L184.1 616.6 L186.2 618.7 L188.2 617.3 L190 616.0 L191.5 616.0 L192.9 617.4 L195 617.5 L197.4 616.0 L199.1 616.9 L200.9 616.0 L202.9 615.3 L204.7 615.2 L205.9 615.7 L207.9 613.4 L210 612.1 L212.9 615.4 L215 613.1 L217.1 613.0 L218.2 613.3 L220.6 612.2 L223.2 614.9 L224.4 611.5 L226.2 612.1 L227.6 611.3 L229.1 612.7 L230.9 611.2 L232.4 612.5 L234.1 612.4 L235.6 614.1 L236.8 613.8 L237.9 614.9 L239.4 610.5 L241.2 615.7 L242.6 610.9 L244.1 611.6 L246.2 615.1 L248.5 611.5 L249.7 612.1 L251.2 611.4 L252.9 613.1 L255 610.6 L256.5 614.3 L257.9 614.9 L259.7 614.3 L261.5 611.6 L263.5 613.8 L265.3 610.3 L267.1 616.3 L268.8 611.2 L270.6 612.6 L272.1 615.1 L273.8 613.2 L275.3 615.2 L276.5 618.3 L278.2 614.0 L279.4 615.2 L281.5 610.8 L282.6 612.6 L284.1 618.2 L285.9 616.7 L287.9 610.3 L289.4 613.8 L290.6 616.7 L292.1 613.9 L293.5 618.2 L294.7 619.5 L295.9 617.3 L297.1 612.1 L299.1 611.3 L300.6 615.6 L301.8 618.3 L303.5 618.5 L304.7 616.5 L306.5 615.8 L308.5 612.7 L310 614.8 L310.9 614.5 L312.1 618.5 L313.5 615.6 L315.9 615.2 L317.4 616.2 L318.5 615.7 L321.2 618.3 L322.6 616.0 L323.5 616.2 L325.3 615.4 L326.5 616.3 L327.6 615.7 L328.8 616.7 L330.3 617.4 L332.1 615.6 L333.8 615.4 L335.3 615.5 L337.1 616.0 L338.5 616.5 L340 615.2 L341.8 615.1 L343.2 615.7 L344.7 615.6 L346.5 616.4 L348.2 616.0 L350 615.1 L351.2 615.9 L352.6 614.8 L354.4 614.7 L355.9 616.5 L357.6 615.0 L359.2 616.5 L360.3 615.7 L361.8 615.6 L363.7 617.5 L365.5 617.3 L367.1 615.4 L368.7 616.4 L370 615.9 L371.3 616.2 L372.6 615.7 L373.9 618.0 L375.3 618.5 L377.4 615.9 L379.2 616.8 L381.3 617.7 L383.4 618.1 L385.3 616.4 L387.1 617.3 L389.2 617.8 L391.3 618.2 L393.2 618.5 L395 616.1 L396.6 615.1 L398.4 616.0 L399.7 616.1 L401.8 618.6 L403.7 616.9 L405 616.3 L406.8 616.1 L408.4 615.4 L410.5 617.8 L412.4 616.1 L413.9 615.4 L415.5 615.5 L417.1 615.3 L418.4 615.8 L419.7 617.1 L421.1 615.8 L422.9 615.9 L424.7 615.2 L426.3 616.6 L427.6 618.2 L428.9 618.5 L430.5 615.9 L431.8 615.3 L433.4 613.1 L434.7 615.6 L436.1 616.7 L437.4 617.8 L438.9 615.9 L440.8 615.8 L442.4 616.4 L443.9 616.5 L445.3 618.0 L446.6 617.1 L447.9 615.4 L449.2 615.4 L450.3 616.2 L451.6 614.7 L452.9 614.2 L454.2 616.2 L455.5 618.0 L456.8 614.9 L458.2 616.5 L459.7 616.6 L461.1 616.6 L462.6 618.2 L463 618.2 L464.2 617.0 L465.4 616.4 L466.9 617.7 L468.2 616.8 L469.9 618.0 L471.6 619.6 L473.4 621.0 L474.9 617.3 L476.6 617.4 L477.8 617.3 L479.3 617.5 L480.8 618.8 L482.3 619.4 L483.8 617.3 L485.7 616.8 L487.2 617.6 L488.5 617.7 L489.7 618.9 L490.9 619.3 L492.4 617.4 L493.7 617.8 L494.7 618.6 L496.1 618.2 L497.6 618.4 L498.6 619.6 L499.9 620.3 L501.3 618.3 L502.6 619.5 L503.8 620.5 L505.3 619.2 L506.5 618.3 L507.8 618.6 L509 619.4 L510.2 617.6 L511.5 617.0 L512.7 617.0 L514 617.4 L515.7 617.8 L516.9 619.0 L517.9 619.4 L519.4 617.6 L520.9 616.3 L522.4 616.1 L523.9 616.4 L525.3 617.4 L527.3 617.8 L528.8 618.2 L530.5 619.6 L532 618.9 L533.3 620.1 L534.5 621.1 L536 621.2 L537.5 619.8 L538.7 619.0 L540.4 618.5 L541.9 618.3 L543.2 618.8 L544.4 619.3 L545.6 617.6 L547.1 619.4 L548.1 617.8 L549.6 617.8 L550.6 617.4 L551.8 616.8 L553.1 617.4 L554.6 616.5 L555.8 615.5 L557.3 614.2 L558.5 614.8 L559.8 614.7 L561 616.0 L562.5 616.8 L564 616.0 L565.2 615.4 L566.4 616.2 L567.9 616.4 L569.3 617.4 L570.8 617.9 L572.4 616.3 L573.7 616.3 L575.2 615.9 L576.5 615.8 L577.6 616.3 L579.1 617.6 L580.6 617.4 L581.9 616.4 L583.4 616.8 L584.5 616.6 L585.6 615.7 L587.1 616.8 L588.2 617.4 L589.5 615.9 L590.8 614.5 L592.1 614.8 L593.4 615.8 L594.7 614.7 L596 613.2 L597.3 616.2 L598.4 616.9 L599.7 614.5 L601 614.8 L602.3 614.7 L603.3 612.9 L604.6 613.8 L605.7 613.1 L606.8 614.4 L607.7 615.2 L609 614.1 L610.1 614.3 L611.1 614.8 L612.4 614.7 L614 615.2 L615.3 616.4 L616.3 617.8 L617.6 615.7 L619.2 615.5 L620.5 616.4 L621.5 615.6 L622.6 615.7 L623.7 616.8 L625 617.7 L626.3 614.7 L627.6 614.5 L628.9 613.6 L630 614.7 L631.1 615.6 L631.9 615.2 L633 616.4 L634.1 616.5 L635.4 615.2 L636.7 613.9 L638 614.2 L639.3 614.4 L640.8 614.5 L642.1 614.8 L643 615.3 L644.3 613.6 L645.6 613.8 L646.9 614.3 L648.2 613.7 L649.5 613.3 L650.6 614.3 L651.7 614.1 L652.7 613.4 L653.8 613.4 L654.9 613.4 L656 612.3 L657.3 612.2 L658.4 613.4 L659.7 614.8 L661 614.4 L662.1 614.6 L663.4 614.4 L664.7 613.4 L666.2 612.6 L667.9 612.4 L669.4 612.5 L671.2 612.5 L672.7 612.7 L674 613.2 L674.4 613.8 L675.9 612.5 L677.4 613.2 L678.8 614.0 L680.6 613.2 L682.4 613.1 L683.8 612.5 L685.3 611.9 L686.8 612.9 L687.9 613.6 L689.4 612.1 L691.2 611.9 L692.6 611.6 L694.1 611.4 L695.6 612.5 L696.8 613.2 L698.2 611.4 L699.4 610.7 L700.9 612.2 L702.4 612.1 L703.8 611.4 L705.3 611.3 L707.1 611.0 L708.5 611.6 L710 611.6 L711.5 612.2 L712.9 613.5 L714.4 614.4 L715.9 613.0 L717.1 612.1 L718.5 612.4 L720 611.6 L721.5 611.4 L722.9 609.9 L724.7 608.4 L726.2 608.0 L727.6 609.2 L729.4 609.9 L730.9 610.1 L732.4 610.4 L733.8 609.1 L735 608.2 L736.5 609.4 L737.9 609.6 L739.4 610.0 L740.9 612.6 L742.4 610.2 L743.8 609.2 L745.3 608.6 L746.8 609.5 L748.2 610.6 L749.7 610.5 L751.5 607.4 L752.9 608.5 L754.4 608.3 L755.9 609.0 L757.6 608.9 L759.1 608.5 L760.6 608.1 L762.1 607.6 L763.5 607.8 L765 607.5 L766.5 607.0 L767.9 607.0 L769.4 605.4 L771.2 606.3 L772.4 607.1 L774.1 606.2 L775.6 607.0 L777.1 607.9 L778.5 607.0 L778.9 607.1 L780.3 606.6 L781.6 606.8 L782.9 605.6 L784.5 606.2 L785.8 605.3 L787.1 604.8 L788.7 605.7 L790.3 606.1 L791.8 606.4 L793.9 608.2 L795.5 607.0 L797.1 606.1 L798.7 605.9 L800 606.8 L801.3 605.4 L802.9 608.3 L804.5 607.3 L806.1 607.3 L807.6 607.2 L809.2 607.8 L811.3 607.8 L812.9 607.4 L814.5 605.8 L815.5 605.6 L816.6 606.9 L818.2 607.5 L819.5 607.7 L821.1 609.4 L822.4 609.8 L823.9 609.4 L825 609.8 L826.6 608.1 L827.6 608.0 L828.9 608.9 L830 609.6 L831.3 608.8 L832.4 608.6 L833.9 609.6 L835.3 606.8 L836.3 602.6 L837.6 606.8 L838.7 608.6 L840 607.8 L841.6 608.7 L842.9 608.6 L844.2 608.7 L846.1 609.9 L847.6 610.8 L849.2 611.0 L850.8 608.7 L851.8 608.7 L853.4 609.3 L854.7 610.4 L856.1 611.1 L857.4 610.4 L858.9 609.4 L860.3 608.7 L861.6 609.4 L862.9 609.9 L864.5 609.4 L865.8 610.2 L867.1 609.2 L868.4 608.3 L869.7 607.9 L870.8 606.8 L871.8 605.6 L873.2 606.6 L874.5 609.0 L875.5 610.4 L876.8 607.9 L877.9 608.3 L879.2 607.2 L880.5 606.7 L881.8 607.3 L883.2 608.0 L884.4 611.0 L886 608.8 L887.9 607.7 L889.3 608.3 L890.9 608.2 L892.1 608.8 L893.5 609.3 L894.6 607.4 L896.3 608.0 L897.6 607.7 L899.5 607.1 L900.9 607.8 L902.3 610.0 L903.7 607.3 L905.1 608.5 L906.5 608.5 L908.1 607.4 L909.5 608.3 L910.9 609.3 L912.5 607.8 L913.9 607.1 L915.3 608.0 L916.7 608.0 L918.1 607.2 L919.5 607.1 L920.6 607.5 L921.8 606.2 L922.7 605.7 L924.1 606.4 L925.5 607.4 L926.9 609.0 L928.3 610.5 L929.7 608.7 L930.6 606.9 L931.8 607.2 L933.2 609.0 L934.8 607.8 L936.2 608.9 L937.6 609.7 L939 608.5 L940.4 607.7 L941.5 607.4 L943.2 608.5 L944.3 608.1 L945.5 608.5 L946.9 607.2 L948.3 605.7 L949.7 606.1 L950.8 604.8 L952 603.8 L953.1 605.7 L954.3 606.9 L955.7 608.9 L957.8 607.5 L958.9 606.2 L959.9 605.5 L961.3 606.8 L962.7 607.4 L964 607.2 L965 606.2 L966.1 605.4 L967.3 606.1 L968.5 606.0 L969.9 607.2 L971 607.7 L972.4 606.8 L973.8 605.9 L975 605.1 L976.1 605.4 L977.3 605.1 L978.7 604.6 L979.8 604.8 L981.2 605.3 L982.4 606.3 L983.6 605.0 L984.9 606.3 L986.3 607.9 L987.7 606.8 L988.9 606.0 L989.4 606.0 L990.6 606.9 L991.8 607.8 L993 606.2 L994.3 605.5 L995.5 606.1 L996.7 606.8 L997.9 606.9 L999.1 607.6 L1000.5 608.1 L1001.9 606.4 L1003.1 606.5 L1004.5 607.6 L1005.7 606.1 L1006.7 604.7 L1008.1 606.2 L1009.1 605.4 L1010.2 604.6 L1011.6 604.5 L1012.8 604.3 L1014 604.4 L1015.2 604.3 L1016 604.3 L1017.2 605.9 L1018.4 605.9 L1019.6 605.0 L1020.8 604.1 L1022 604.2 L1023.2 605.2 L1024.2 604.8 L1025.2 604.9 L1026.4 605.7 L1027.5 606.4 L1028.9 606.3 L1030.1 605.8 L1031.3 605.1 L1032.9 604.3 L1034.1 604.0 L1035.1 603.9 L1036.5 605.8 L1037.3 604.4 L1038.5 604.5 L1039.7 604.9 L1040.9 605.5 L1042.1 605.8 L1043.4 606.2 L1044.6 606.8 L1045.8 606.9 L1047 606.3 L1048.2 605.8 L1049.4 605.8 L1050.6 605.9 L1051.8 606.8 L1053 607.3 L1054.4 606.7 L1055.4 605.9 L1056.6 605.1 L1057.8 605.4 L1059 604.9 L1060.1 604.3 L1060.9 604.1 L1061.9 604.5 L1063.1 605.0 L1064.3 604.2 L1065.5 604.4 L1066.7 605.1 L1067.9 604.6 L1069.1 604.8 L1070.3 605.3 L1071.9 606.4 L1073.1 605.4 L1073.9 604.5 L1075.1 604.6 L1076.3 603.9 L1077.4 603.7 L1078.6 604.8 L1079.8 605.7 L1081.2 606.3 L1082.4 605.5 L1083.6 604.4 L1084.8 603.5 L1086 603.3 L1087.2 603.5 L1088.4 604.3 L1089.8 606.5 L1090.8 605.3 L1092 604.2 L1093 604.0 L1094.1 604.3 L1095.9 604.3 L1097.5 605.2 L1098.8 605.5 L1100.1 603.7 L1101.7 603.2 L1103 602.9 L1104 606.6 L1105 602.8 L1106.3 601.7 L1107.6 602.7 L1108.9 601.0 L1110.2 599.7 L1111.5 599.5 L1112.8 599.3 L1114.1 600.3 L1115.4 602.8 L1116.7 602.9 L1118 601.7 L1119.3 601.8 L1120.6 600.4 L1121.9 600.2 L1123.2 601.9 L1124.8 602.3 L1126.4 600.7 L1127.7 600.3 L1129 600.1 L1130.3 600.3 L1131.6 600.2 L1132.6 598.2 L1133.6 596.7 L1134.9 596.7 L1136.5 596.6 L1137.8 596.7 L1138.8 598.4 L1140.1 599.3 L1141.4 600.5 L1142.7 601.5 L1144 602.2 L1145.3 601.7 L1146.6 602.1 L1147.9 601.5 L1148.9 601.9 L1150.2 603.6 L1151.5 604.8 L1152.8 605.3 L1154.1 604.3 L1155 604.7 L1156.3 604.1 L1157.6 604.7 L1158.9 604.5 L1160.2 604.8 L1161.5 604.7 L1162.8 604.6 L1164.1 605.1 L1165.4 604.3 L1166.7 603.9 L1168 604.6 L1169.3 606.7 L1170.4 607.7 L1171.7 606.1 L1172.8 606.0 L1174.1 606.7 L1175.4 606.7 L1176.7 606.9 L1178 607.8 L1179.3 608.0 L1180.6 606.7 L1181.9 606.0 L1183.2 606.3 L1184.2 606.1 L1185.3 606.9 L1186.6 608.3 L1187.5 609.4 L1188.6 609.3 L1189.6 606.5 L1190.7 604.7 L1191.8 606.0 L1192.9 606.5 L1194 606.0 L1195.1 606.0 L1196.1 607.4 L1197.2 608.3 L1198.3 602.6 L1199.4 604.4 L1200.5 606.3 L1201.8 606.2 L1203.1 606.9 L1204.4 607.7 L1206.1 608.3 L1207.4 606.9 L1208.5 603.5 L1209.8 604.6 L1211.1 605.3 L1212.4 606.2 L1213.7 607.5 L1215 608.4 L1216.3 606.9 L1217.6 606.6 L1218.9 605.9 L1220 605.4 L1221.3 606.6 L1222.6 607.2 L1223.9 607.0 L1225.2 606.6 L1226.5 606.7 L1227.8 606.6 L1229.1 606.5 L1230.4 606.4 L1231.7 606.0 L1233 607.8 L1234.3 605.2 L1235.6 604.3 L1236.9 604.7 L1238.2 605.4 L1239.5 605.9 L1240.8 606.3 L1241.8 606.7 L1242.9 605.2 L1244.2 606.0 L1245.5 606.2 L1246.8 607.3 L1248.1 606.3 L1249.4 606.3 L1250.7 606.9 L1252 606.3 L1253.3 606.3 L1254.6 605.9 L1255.9 606.6 L1257.2 606.6 L1258.5 607.4 L1259.8 607.9 L1261.1 605.5 L1262.4 605.6 L1263.7 605.4 L1264.6 605.4 L1266.2 605.4 L1267.7 606.8 L1269.3 606.6 L1270.8 605.6 L1272.4 606.8 L1273.9 607.4 L1275.5 607.9 L1277 607.4 L1278.6 606.5 L1280.1 605.9 L1281.7 605.4 L1283.2 605.8 L1284.8 606.5 L1286.6 607.7 L1287.9 605.6 L1289.1 604.5 L1290.7 605.8 L1292.2 606.2 L1293.8 605.9 L1295.3 605.6 L1296.9 605.2 L1298.4 606.3 L1300 606.0 L1301.5 606.4 L1303.1 607.4 L1304.6 607.8 L1306.2 606.9 L1307.7 606.7 L1309.3 606.8 L1310.8 607.4 L1312.4 608.3 L1313.9 608.6 L1315.5 607.8 L1317 608.1 L1318.6 606.4 L1320.1 607.9 L1321.6 608.0 L1323.2 607.4 L1324.7 605.3 L1326.3 603.8 L1327.8 603.9 L1329.4 605.4 L1330.9 607.7 L1332.5 606.8 L1334 606.5 L1335.6 605.3 L1337.1 604.5 L1338.7 606.4 L1340.2 607.5 L1341.8 606.6 L1343.3 605.1 L1344.9 605.3 L1346.4 605.1 L1348 605.8 L1349.5 605.1 L1351.1 604.3 L1352.6 603.1 L1354.2 600.6 L1355.7 601.8 L1357.3 604.5 L1358.8 603.5 L1360.4 602.4 L1361.9 603.1 L1363.5 603.7 L1365 605.4 L1366.6 604.1 L1368.1 604.0 L1369.7 603.9 L1370.9 602.9 L1372.3 603.7 L1373.6 603.7 L1375 604.6 L1376.4 605.1 L1377.8 604.6 L1379.2 603.7 L1380.6 604.6 L1382 605.9 L1383.4 607.3 L1384.8 605.4 L1386.2 606.1 L1387.6 604.5 L1389 603.8 L1390.4 604.6 L1391.8 604.7 L1392.9 606.7 L1394 607.7 L1395.4 606.0 L1396.8 605.0 L1398.2 606.1 L1399.3 605.4 L1400.7 606.2 L1401.8 604.6 L1402.9 602.9 L1404 604.5 L1405.1 606.0 L1406.2 604.8 L1407.4 605.1 L1408.5 605.9 L1409.9 606.2 L1411.3 606.8 L1412.6 605.7 L1414 605.7 L1415.2 605.4 L1416.5 607.4 L1417.9 605.4 L1419.3 606.8 L1420.4 607.7 L1421.8 606.5 L1423.2 606.4 L1424.6 606.0 L1426 605.7 L1427.4 604.6 L1428.8 604.6 L1430.2 606.4 L1431.6 606.1 L1433 605.4 L1434.4 605.5 L1435.8 606.1 L1437.2 606.7 L1438.6 607.3 L1439.9 606.4 L1441.3 605.6 L1442.7 605.7 L1444.1 606.4 L1445.5 606.8 L1446.9 607.6 L1448 608.3 L1449.1 606.1 L1449.7 605.0" stroke="#8f84ea" stroke-width="1" fill="none" stroke-linejoin="round"/>
<rect x="47.5" y="602.5" width="8" height="15" fill="#fff" stroke="#555" stroke-width="1"/>
<path d="M50.5 606 V614 M52.5 606 V614" stroke="#555" stroke-width="1" fill="none"/>
<rect x="1445.5" y="602.5" width="8" height="15" fill="#fff" stroke="#555" stroke-width="1"/>
<path d="M1448.5 606 V614 M1450.5 606 V614" stroke="#555" stroke-width="1" fill="none"/>
</svg>
<div id="rb"></div><div id="rb2"></div>
<div id="tt">
<div style="top:6.3px"><b>22 Dec '20</b></div>
<i style="top:25.8px;background:#111"></i><div style="top:23.2px;left:22.4px"><b>Price USD</b>: 636.23</div>
<i style="top:42.8px;background:#4832e0"></i><div style="top:40.2px;left:22.4px"><b>Transaction Count (Total)</b>: 1,147,101</div>
</div>
<div id="fab"><svg width="60" height="60" viewBox="0 0 60 60" style="position:absolute;left:0;top:0">
<circle cx="26.6" cy="25.9" r="12.9" fill="none" stroke="#fff" stroke-width="2.4"/>
<path d="M36.8 37.2 L44.8 45" stroke="#fff" stroke-width="5.4" stroke-linecap="round" fill="none"/>
<path d="M19.8 29.5 Q26.8 35 33.8 29.5" stroke="#fff" stroke-width="1.8" stroke-linecap="round" fill="none"/>
</svg></div>
</body></html>
